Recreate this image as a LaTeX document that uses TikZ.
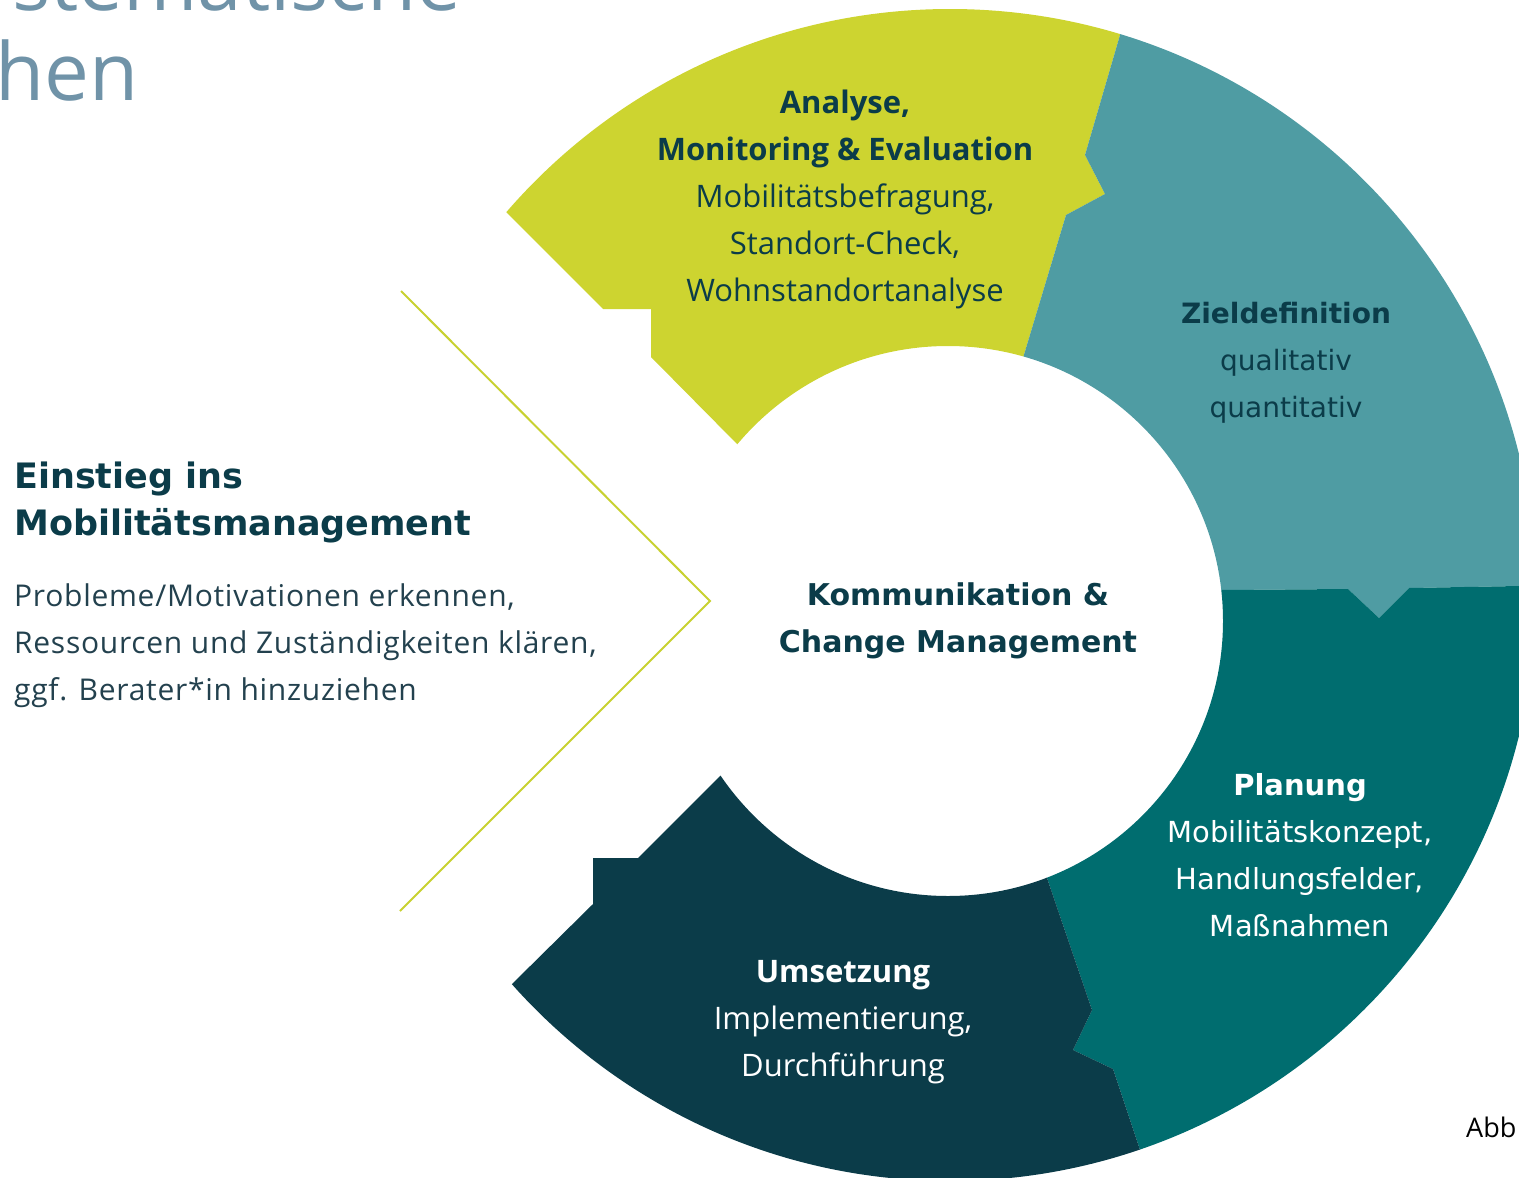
\documentclass[tikz,border=0pt]{standalone}
\usepackage{fontspec}
\setmainfont{Open Sans}
\newfontfamily\dejavu{DejaVu Sans}
\newfontfamily\bodyfont[LetterSpace=2.4]{Open Sans}
\definecolor{cgreen}{RGB}{205,212,48}
\definecolor{cteal}{RGB}{79,156,163}
\definecolor{cdteal}{RGB}{0,109,111}
\definecolor{cnavy}{RGB}{11,60,73}
\definecolor{ctext}{RGB}{11,60,73}
\definecolor{ctitle}{RGB}{112,147,168}
\definecolor{cline}{RGB}{200,209,48}
\definecolor{cbody}{RGB}{35,65,78}
\begin{document}
\begin{tikzpicture}[x=1pt,y=-1pt,
  txt/.style={inner sep=0pt, align=center},
  ringfill/.style={even odd rule}]
\useasboundingbox (0,0) rectangle (1519,1178);
\clip (0,0) rectangle (1519,1178);
\coordinate (O) at (950,595);
\coordinate (C) at (948,621);
\coordinate (M) at (950,600);
% Analyse (green)
\begin{scope}
\clip (M) -- (800,508) -- (738,445) -- (651,357) -- (651,309) -- (603,309) -- (507,213) -- (450,156) -- (400,-100) -- (1170,-100) -- (1150,-64) -- (1120,35) -- (1085,155) -- (1105,194) -- (1066,215) -- (1023,358) -- (1000,435) -- cycle;
\fill[cgreen, ringfill] (O) circle[radius=586pt] (C) circle[radius=275pt];
\end{scope}
% Zieldefinition (light teal)
\begin{scope}
\clip (M) -- (1000,435) -- (1023,358) -- (1066,215) -- (1105,194) -- (1085,155) -- (1120,35) -- (1150,-64) -- (1170,-100) -- (1700,-100) -- (1700,585) -- (1519,586) -- (1409,588) -- (1379,618) -- (1348,589) -- (1221,590) -- (1150,591) -- cycle;
\fill[cteal, ringfill] (O) circle[radius=586pt] (C) circle[radius=275pt];
\end{scope}
% Planung (dark teal)
\begin{scope}
\clip (M) -- (1150,591) -- (1221,590) -- (1348,589) -- (1379,618) -- (1409,588) -- (1519,586) -- (1700,585) -- (1700,1300) -- (1190,1300) -- (1140,1150) -- (1113,1069) -- (1073,1050) -- (1092,1010) -- (1048,881) -- (1028,822) -- cycle;
\fill[cdteal, ringfill] (O) circle[radius=586pt] (C) circle[radius=275pt];
\end{scope}
% Umsetzung (navy)
\begin{scope}
\clip (M) -- (1028,822) -- (1048,881) -- (1092,1010) -- (1073,1050) -- (1113,1069) -- (1140,1150) -- (1190,1300) -- (300,1300) -- (451,1044) -- (511,985) -- (593,904) -- (593,858) -- (638,858) -- (800,696) -- cycle;
\fill[cnavy, ringfill] (O) circle[radius=586pt] (C) circle[radius=275pt];
\end{scope}
% chevron
\coordinate (ch1) at (401,291);
\coordinate (ch2) at (710,601);
\coordinate (ch3) at (400,911);
\draw[cline, line width=2pt] (ch1) -- (ch2) -- (ch3);
% title fragments
\node[inner sep=0pt, anchor=base west, text=ctitle, font=\fontsize{80}{92}\selectfont] (title1) at (12,10) {stematische};
\node[inner sep=0pt, anchor=base west, text=ctitle, font=\fontsize{80}{92}\selectfont] (title2) at (-5,100) {hen};
% segment texts
\node[txt, text=ctext, font=\fontsize{31}{47}\selectfont] (analyse) at (845,199)
  {\textbf{Analyse,}\\\textbf{Monitoring \& Evaluation}\\Mobilitätsbefragung,\\Standort-Check,\\Wohnstandortanalyse};
\node[txt, text=ctext, font=\dejavu\fontsize{28}{47}\selectfont] (ziel) at (1286,363)
  {\textbf{Zieldefinition}\\qualitativ\\quantitativ};
\node[txt, text=white, font=\dejavu\fontsize{29}{47}\selectfont] (planung) at (1300,855)
  {\textbf{Planung}\\Mobilitätskonzept,\\Handlungsfelder,\\Maßnahmen};
\node[txt, text=white, font=\fontsize{31}{47}\selectfont] (umsetzung) at (843,1022)
  {\textbf{Umsetzung}\\Implementierung,\\Durchführung};
\node[txt, text=ctext, font=\dejavu\bfseries\fontsize{30}{47}\selectfont] (center) at (958,621)
  {Kommunikation \&\\Change Management};
% left texts
\node[inner sep=0pt, anchor=west, align=left, text=ctext, font=\dejavu\bfseries\fontsize{35}{47}\selectfont] (einstieg) at (14,502)
  {Einstieg ins\\Mobilitätsmanagement};
\node[inner sep=0pt, anchor=west, align=left, text=cbody, font=\bodyfont\fontsize{30}{47}\selectfont] (body) at (14,646)
  {Probleme/Motivationen erkennen,\\Ressourcen und Zuständigkeiten klären,\\ggf. Berater*in hinzuziehen};
\node[inner sep=0pt, anchor=west, text=black, font=\fontsize{27}{32}\selectfont] (abb) at (1466,1127) {Abb};
\end{tikzpicture}
\end{document}
